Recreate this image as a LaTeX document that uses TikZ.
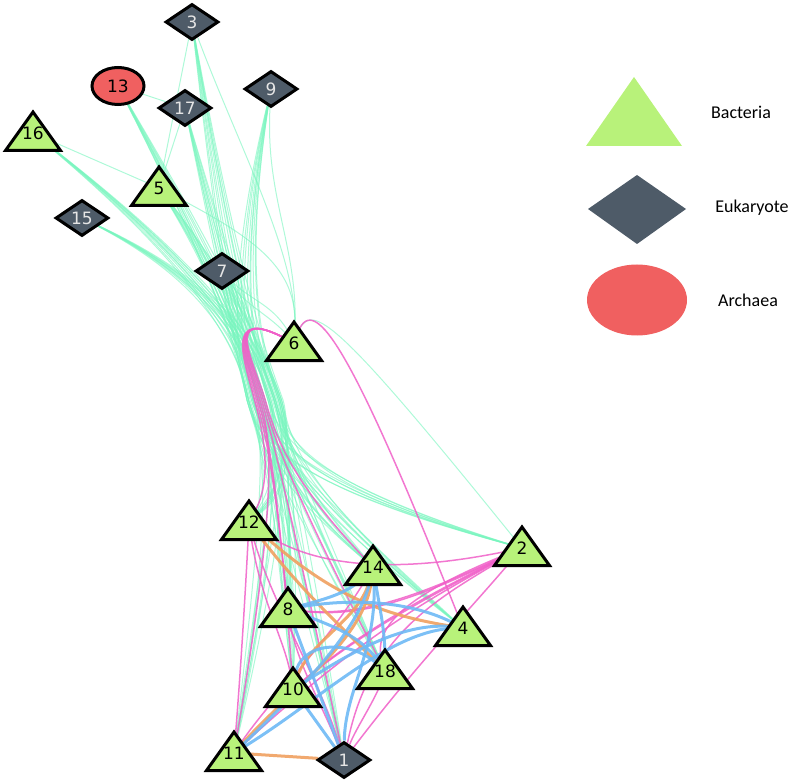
\documentclass[tikz,border=0pt]{standalone}
\usepackage{fontspec}
\setmainfont{DejaVu Sans}
\newfontfamily\legfont{Carlito}
\usetikzlibrary{shapes.geometric}
\pgfdeclarelayer{bg}
\pgfsetlayers{bg,main}
\definecolor{bacG}{RGB}{184,242,122}
\definecolor{eukG}{RGB}{78,91,104}
\definecolor{arcR}{RGB}{240,96,96}
\definecolor{edgeG}{RGB}{120,245,190}
\definecolor{edgeP}{RGB}{240,95,200}
\definecolor{edgeO}{RGB}{240,160,95}
\definecolor{edgeB}{RGB}{110,185,245}
\tikzset{
  bacshape/.style={fill=bacG,draw=black,line width=3pt,line join=miter},
  bactxt/.style={circle,inner sep=0pt,minimum size=16pt,font=\fontsize{17}{17}\selectfont,text=black},
  euk/.style={diamond,aspect=1.45,draw=black,line width=3pt,fill=eukG,inner sep=0pt,
    minimum width=53pt,minimum height=36pt,text=white!90!black,font=\fontsize{17}{17}\selectfont},
  arc/.style={ellipse,draw=black,line width=3pt,fill=arcR,inner sep=0pt,
    minimum width=52pt,minimum height=37pt,text=black,font=\fontsize{17}{17}\selectfont},
  gedge/.style={draw=edgeG,line width=1pt,opacity=0.6},
  pedge/.style={draw=edgeP,line width=1.5pt,opacity=0.85},
  oedge/.style={draw=edgeO,line width=3pt,opacity=0.9},
  bedge/.style={draw=edgeB,line width=3pt,opacity=0.9},
  legtxt/.style={font=\legfont\fontsize{18}{18}\selectfont,text=black,inner sep=0pt}
}
\newcommand\bactnode[4]{%
  \filldraw[bacshape] (#2,#3) ++(0,-21) -- ++(27.5,38.5) -- ++(-55,0) -- cycle;
  \node[bactxt] (#1) at (#2,#3) {#4};}
\begin{document}
\begin{tikzpicture}[x=1pt,y=-1pt]
\useasboundingbox (0,0) rectangle (797,783);
% ---------- nodes ----------
\node[euk] (n3) at (192,22) {3};
\node[arc] (n13) at (118,86) {13};
\node[euk] (n17) at (185,108) {17};
\node[euk] (n9) at (271,89) {9};
\bactnode{n16}{33}{133}{16}
\bactnode{n5}{159}{188}{5}
\node[euk] (n15) at (82,218) {15};
\node[euk] (n7) at (222,271) {7};
\bactnode{n6}{294}{343}{6}
\bactnode{n12}{249}{522}{12}
\bactnode{n2}{522}{548}{2}
\bactnode{n14}{373}{567}{14}
\bactnode{n8}{288}{609}{8}
\bactnode{n4}{463}{628}{4}
\bactnode{n18}{385}{671}{18}
\bactnode{n10}{293}{689}{10}
\bactnode{n11}{234}{753}{11}
\node[euk] (n1) at (344,760) {1};
% ---------- legend ----------
\fill[bacG] (586,146) -- (682,146) -- (634,77) -- cycle;
\fill[eukG] (588,209) -- (637,175) -- (686,209) -- (637,244) -- cycle;
\fill[arcR] (637,300) ellipse [x radius=50pt, y radius=35.5pt];
\node[legtxt] (lb) at (741,112) {Bacteria};
\node[legtxt] (le) at (752,208) {Eukaryote};
\node[legtxt] (la) at (748,300) {Archaea};
% ---------- edges ----------
\begin{pgfonlayer}{bg}
\foreach \s [count=\i] in {n3,n17,n9,n13,n16,n5,n15,n7}{
  \foreach \t [count=\j] in {n12,n14,n8,n2,n4,n10,n11,n18,n1}{
    \pgfmathsetmacro\ja{mod(\i*11+\j*7,25)-12}
    \pgfmathsetmacro\jb{mod(\i*5+\j*13,29)-14}
    \draw[gedge] (\s) .. controls (232+0.8*\ja,292) and (255+1.3*\ja,365) .. (265+1.5*\ja,400)
       .. controls (275+1.5*\ja,435) and (285+1.3*\jb,480) .. (\t);
  }
}
\draw[gedge] (n13) -- (n17);
\draw[gedge] (n16) -- (n5);
\draw[gedge] (n17) -- (n5);
\draw[gedge] (n3) -- (n5);
\draw[gedge] (n5) .. controls (260,240) and (300,270) .. (n6);
\draw[gedge] (n3) .. controls (240,150) and (300,260) .. (n6);
\draw[gedge] (n9) .. controls (265,200) and (300,250) .. (n6);
\draw[gedge] (n7) .. controls (250,300) and (275,305) .. (n6);
\draw[gedge] (n7) .. controls (245,305) and (270,315) .. (n6);
\draw[gedge] (n6) .. controls (310,300) and (330,310) .. (n2);
% pink
\foreach \t/\d in {n12/-6,n8/-3,n10/0,n11/3,n1/6,n18/9,n14/12}{
  \draw[pedge] (n6) .. controls (222,305) and (248+0.5*\d,362) .. (258+0.6*\d,400)
     .. controls (268+0.6*\d,435) and (278+\d,480) .. (\t);
}
\draw[pedge] (n6) .. controls (312,292) and (345,330) .. (n4);
\draw[pedge] (n12) .. controls (320,575) and (420,570) .. (n2);
\foreach \t/\d in {n8/0,n10/4,n11/8,n1/12,n18/-4,n8/2,n10/6}{
  \draw[pedge] (n2) .. controls (440,585+\d) and (370,620+\d) .. (\t);
}
\draw[pedge] (n2) .. controls (470,610) and (420,660) .. (n1);
\draw[pedge] (n12) .. controls (245,600) and (240,680) .. (n11);
\draw[pedge] (n12) .. controls (270,600) and (320,680) .. (n1);
\draw[pedge] (n12) .. controls (260,600) and (285,640) .. (n10);
\draw[pedge] (n8) .. controls (295,660) and (320,700) .. (n1);
\draw[pedge] (n14) .. controls (330,640) and (270,700) .. (n11);
\draw[pedge] (n18) .. controls (375,700) and (355,730) .. (n1);
% orange
\draw[oedge] (n12) .. controls (300,590) and (340,625) .. (n18);
\draw[oedge] (n12) .. controls (330,595) and (380,615) .. (n4);
\draw[oedge] (n14) .. controls (360,620) and (310,640) .. (n10);
\draw[oedge] (n14) .. controls (365,640) and (290,690) .. (n11);
\draw[oedge] (n11) -- (n1);
% blue
\draw[bedge] (n8) .. controls (330,598) and (350,592) .. (n14);
\draw[bedge] (n8) .. controls (350,598) and (410,600) .. (n4);
\draw[bedge] (n8) .. controls (330,625) and (360,635) .. (n18);
\draw[bedge] (n14) .. controls (380,610) and (385,630) .. (n18);
\draw[bedge] (n14) .. controls (378,650) and (345,690) .. (n1);
\draw[bedge] (n10) .. controls (340,660) and (400,620) .. (n4);
\draw[bedge] (n11) .. controls (320,700) and (390,630) .. (n4);
\draw[bedge] (n11) .. controls (300,690) and (360,630) .. (n14);
\draw[bedge] (n1) -- (n8);
\draw[bedge] (n1) -- (n10);
\draw[bedge] (n10) .. controls (300,640) and (350,640) .. (n18);
\end{pgfonlayer}
\end{tikzpicture}
\end{document}
